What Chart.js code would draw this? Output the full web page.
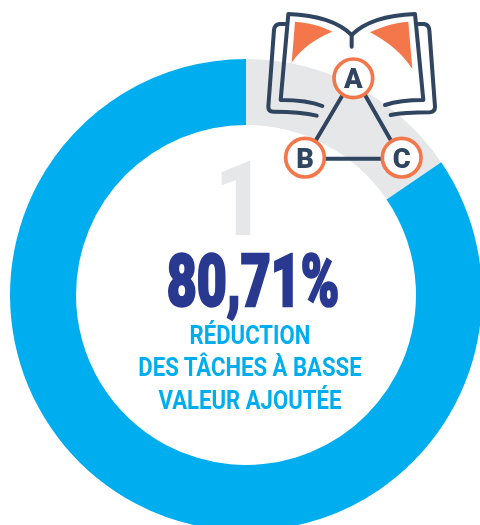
<!DOCTYPE html>
<html>
<head>
<meta charset="utf-8">
<script src="https://cdn.jsdelivr.net/npm/chart.js@4"></script>
<style>
html, body { margin: 0; padding: 0; width: 480px; height: 525px; overflow: hidden; background: #fff; }
#chart { position: absolute; left: 10px; top: 59px; }
.txt { position: absolute; white-space: nowrap; transform-origin: center top; text-align: center; font-family: Roboto, sans-serif; }
#rank { left: 140px; width: 200px; top: 148px; font-size: 103px; line-height: 104px; font-weight: 900; color: #e6e7e8; transform: scaleX(0.85); }
#value { left: 103px; width: 300px; top: 242px; font-size: 72px; line-height: 80px; font-weight: 900; color: #2a3990; -webkit-text-stroke: 2.5px #2a3990; transform: scaleX(0.72); }
.lab { left: 100px; width: 300px; font-size: 25px; line-height: 30px; font-weight: 700; color: #00aeef; transform: scaleX(0.885); }
#icon { position: absolute; left: 240px; top: 0; width: 220px; height: 200px; }
#icon text { font-family: Roboto, sans-serif; font-weight: 900; font-size: 82px; fill: #2f4560; text-anchor: middle; }
</style>
</head>
<body>
<canvas id="chart" width="472" height="472"></canvas>

<div class="txt" id="rank"></div>
<div class="txt" id="value"></div>
<div class="txt lab" id="lab0" style="top:321px"></div>
<div class="txt lab" id="lab1" style="top:353px"></div>
<div class="txt lab" id="lab2" style="top:386px"></div>

<svg id="icon" viewBox="0 0 660 600">
  <g fill="none" stroke="#2f4560" stroke-width="12" stroke-linecap="round" stroke-linejoin="round">
    <path d="M335 140 L335 105 C295 65 225 45 145 42 L122 300 C165 300 215 305 247 318"/>
    <path d="M335 105 C375 65 445 45 525 42 L550 300 C510 300 465 305 435 315"/>
    <path d="M135 72 L118 72 Q104 74 102 90 L85 320 Q85 335 100 335 C145 335 195 338 230 347"/>
    <path d="M535 72 L552 72 Q566 74 568 90 L585 320 Q585 335 570 337 C525 337 485 338 452 345"/>
    <path d="M308 285 L225 425 M372 280 L455 425 M250 476 L432 476"/>
  </g>
  <path fill="#f4774b" d="M165 65 C205 68 245 78 277 95 C225 115 180 150 155 188 Z"/>
  <path fill="#f4774b" d="M505 65 C465 68 425 80 390 97 C445 125 490 165 517 207 Z"/>
  <g fill="#fff" stroke="#f4774b" stroke-width="11">
    <circle cx="340" cy="235" r="58"/>
    <circle cx="195" cy="473" r="58"/>
    <circle cx="485" cy="473" r="58"/>
  </g>
  <text x="340" y="264" id="nodeA"></text>
  <text x="195" y="503" id="nodeB"></text>
  <text x="485" y="503" id="nodeC"></text>
</svg>

<script>
// slices start at 12 o'clock, grey part first
const categories = ['Restant', 'Réduction'];
const sliceValues = [15.5, 84.5];
const sliceColors = ['#e6e7e8', '#00aeef'];

const rankLabel = '1';
const valueLabel = '80,71%';
const captionLines = ['RÉDUCTION', 'DES TÂCHES À BASSE', 'VALEUR AJOUTÉE'];
const nodeLabels = ['A', 'B', 'C'];

document.getElementById('rank').textContent = rankLabel;
document.getElementById('value').textContent = valueLabel;
captionLines.forEach((line, i) => {
    document.getElementById('lab' + i).textContent = line;
});
document.getElementById('nodeA').textContent = nodeLabels[0];
document.getElementById('nodeB').textContent = nodeLabels[1];
document.getElementById('nodeC').textContent = nodeLabels[2];

const ctx = document.getElementById('chart').getContext('2d');
const myChart = new Chart(ctx, {
    type: 'doughnut',
    data: {
        labels: categories,
        datasets: [{
            data: sliceValues,
            backgroundColor: sliceColors,
            borderWidth: 0
        }]
    },
    options: {
        responsive: false,
        animation: false,
        cutout: 170,
        plugins: {
            legend: { display: false },
            tooltip: { enabled: false }
        }
    }
});
</script>
</body>
</html>
